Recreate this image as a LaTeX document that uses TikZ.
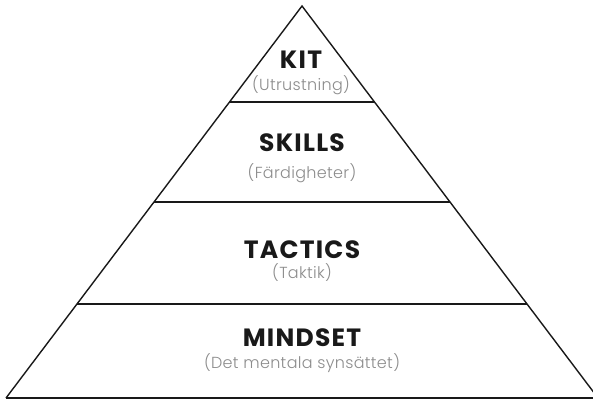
\documentclass[tikz,border=0pt]{standalone}
\usepackage{fontspec}
\setmainfont{Poppins}
\newfontfamily\subfont[LetterSpace=2]{Poppins Light}
\newfontfamily\titlefont[LetterSpace=5]{Poppins Bold}
\usetikzlibrary{calc}
\definecolor{TitleClr}{rgb}{0.1,0.1,0.1}
\definecolor{SubClr}{rgb}{0.55,0.55,0.55}
\tikzset{
  edge/.style={line width=1.4pt,color=TitleClr},
  level/.style={line width=1.8pt,color=TitleClr},
  title/.style={font=\titlefont\fontsize{25}{27}\selectfont,color=TitleClr,inner sep=0pt},
  sub/.style={font=\subfont\fontsize{16}{18}\selectfont,color=SubClr,inner sep=0pt}
}
\begin{document}
\begin{tikzpicture}[x=1pt,y=-1pt]
\useasboundingbox (0,0) rectangle (593,400);

\coordinate (A) at (302,6);
\coordinate (B) at (6,398);
\coordinate (C) at (598,398);

\coordinate (kl) at ($(A)!0.245!(B)$);
\coordinate (kr) at ($(A)!0.245!(C)$);
\coordinate (sl) at ($(A)!0.5!(B)$);
\coordinate (sr) at ($(A)!0.5!(C)$);
\coordinate (tl) at ($(A)!0.760!(B)$);
\coordinate (tr) at ($(A)!0.760!(C)$);

\draw[edge] (B) -- (A) -- (C);
\draw[level] (B) -- (C);
\draw[level] (kl) -- (kr);
\draw[level] (sl) -- (sr);
\draw[level] (tl) -- (tr);

\node[title] (kit) at (301,60) {KIT};
\node[sub] (kitsub) at (301,85) {(Utrustning)};

\node[title] (skills) at (302,143) {SKILLS};
\node[sub] (skillssub) at (302,173) {(Färdigheter)};

\node[title] (tactics) at (302,250) {TACTICS};
\node[sub] (tacticssub) at (302,273) {(Taktik)};

\node[title] (mindset) at (302,338) {MINDSET};
\node[sub] (mindsetsub) at (302,363) {(Det mentala synsättet)};

\end{tikzpicture}
\end{document}
